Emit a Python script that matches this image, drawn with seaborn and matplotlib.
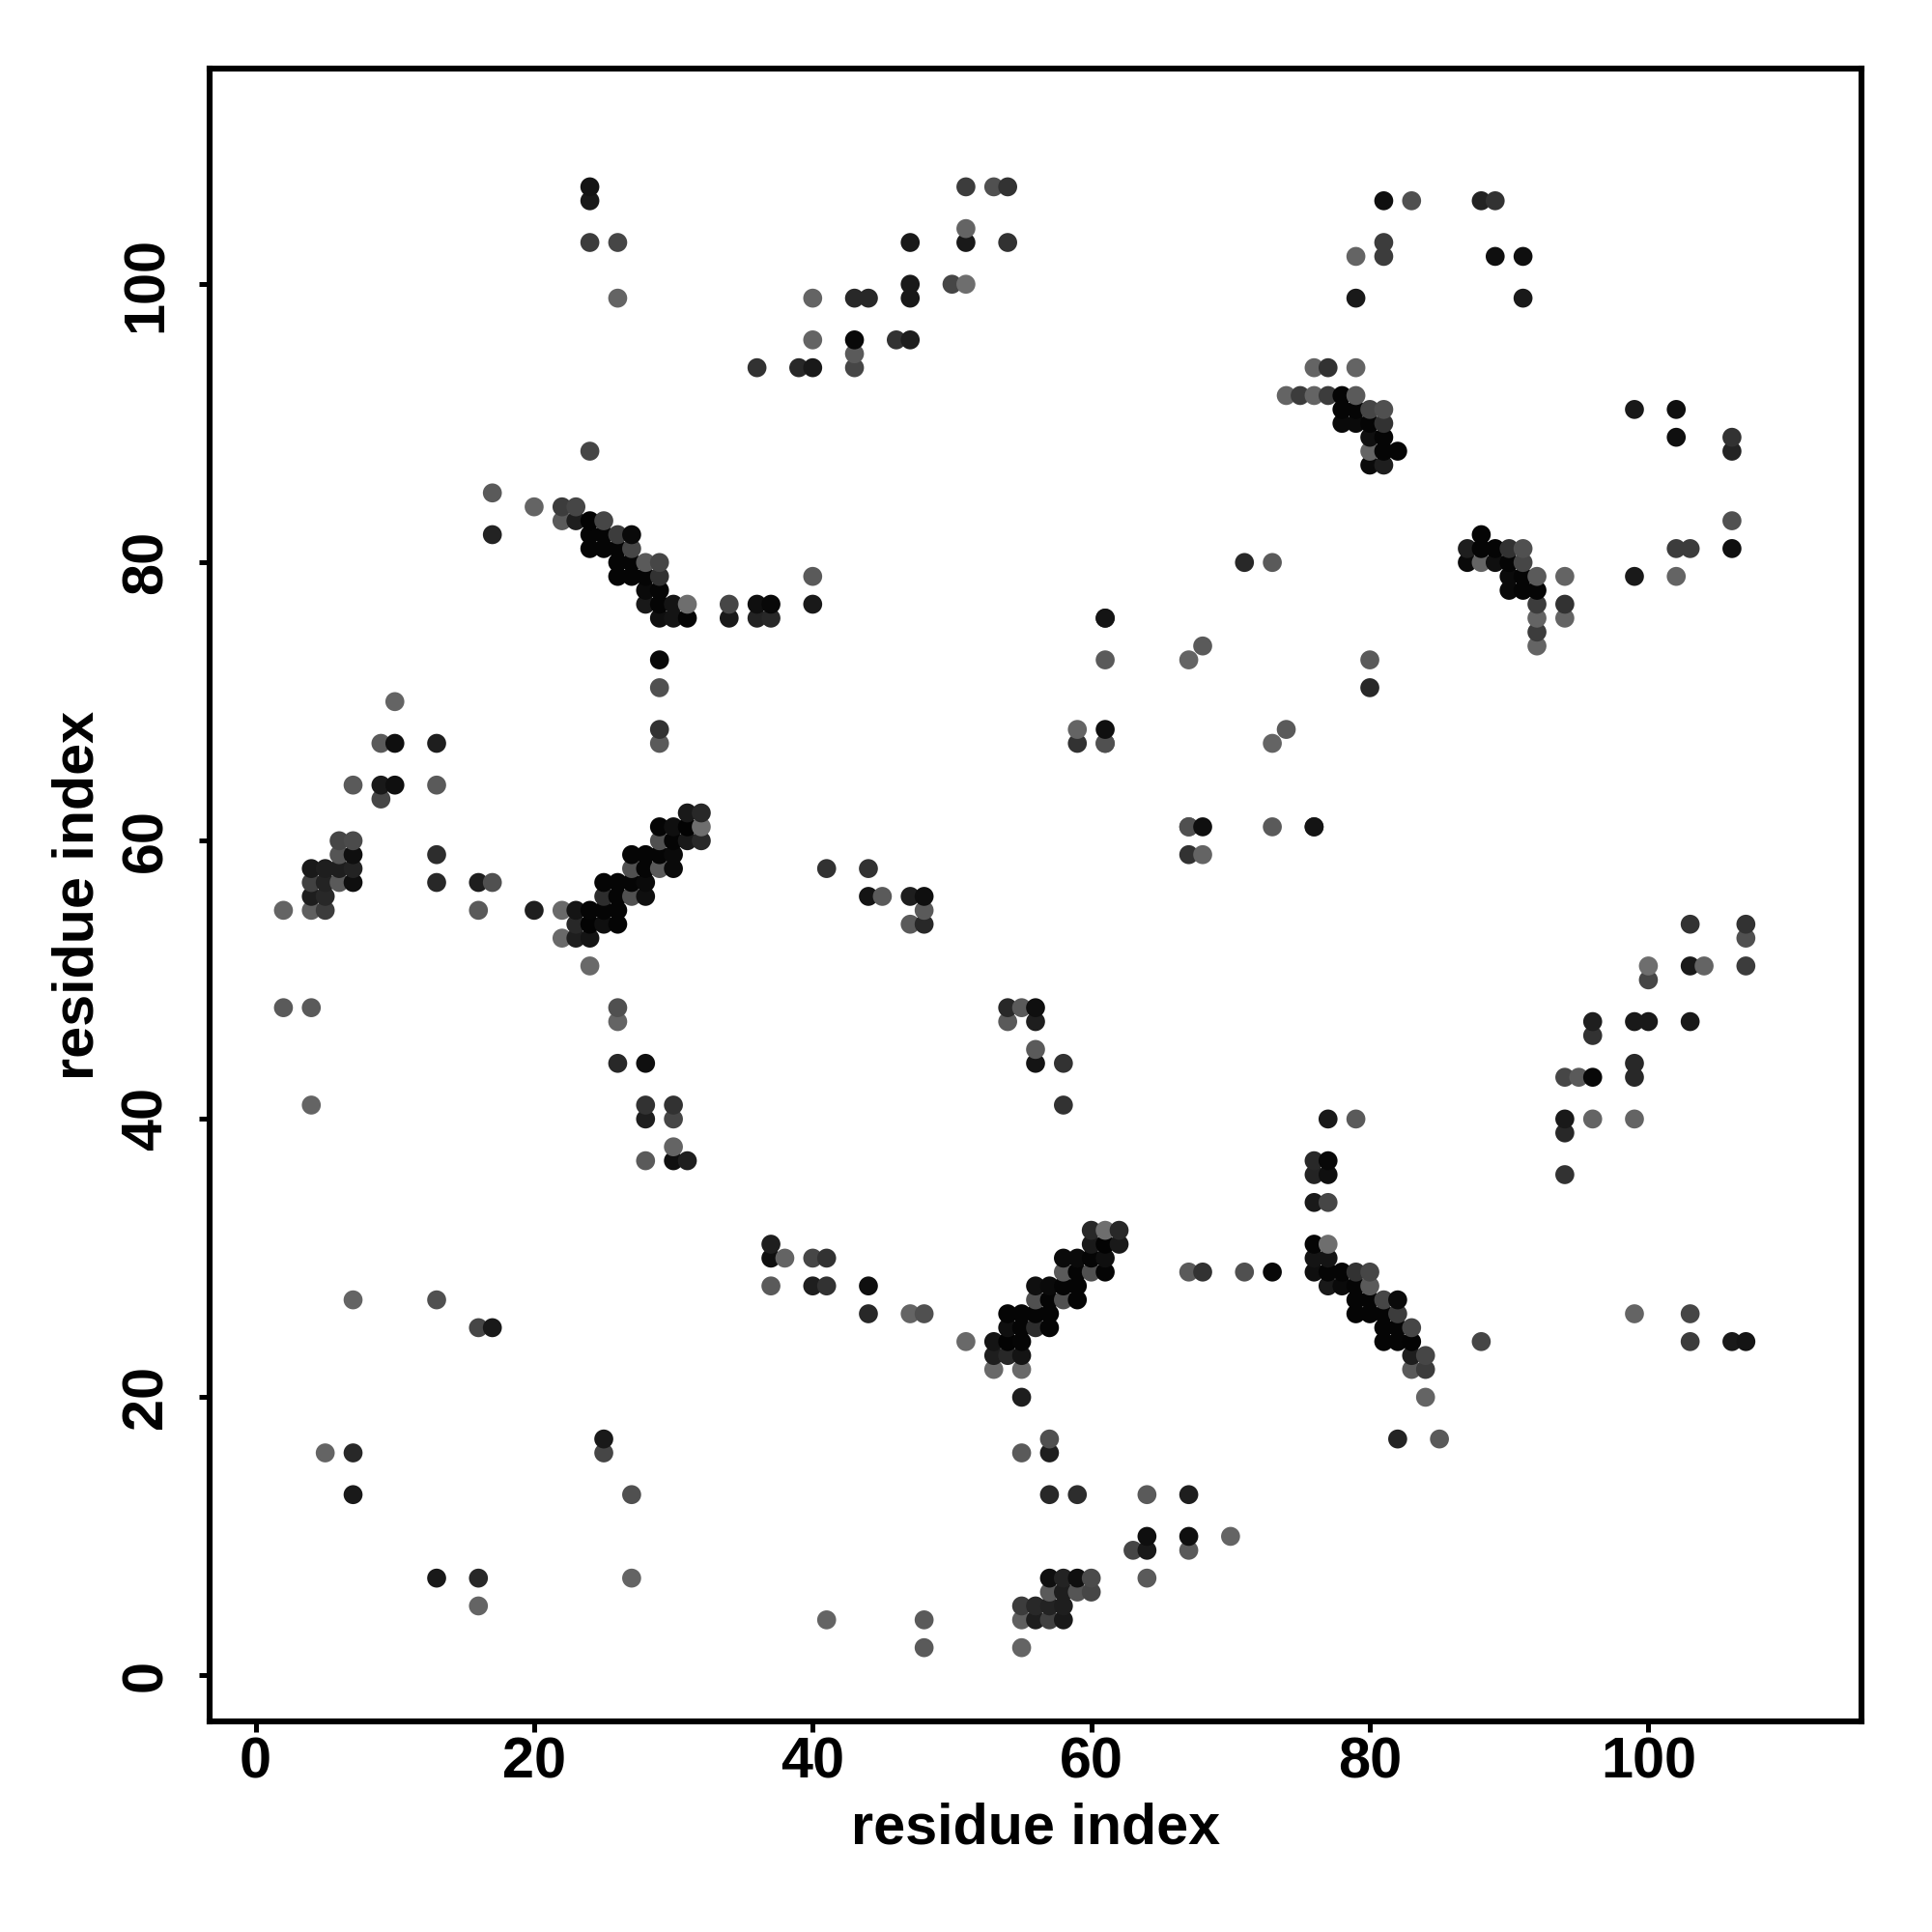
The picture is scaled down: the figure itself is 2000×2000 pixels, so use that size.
import pandas as pd
import matplotlib.pyplot as plt
import seaborn as sns

sns.set_style("white")
plt.rcParams['font.family'] = ['Liberation Sans', 'DejaVu Sans']
plt.rcParams['font.weight'] = 'bold'
plt.rcParams['text.color'] = 'black'
plt.rcParams['axes.labelcolor'] = 'black'
plt.rcParams['xtick.color'] = 'black'
plt.rcParams['ytick.color'] = 'black'

# contact map is symmetric: only the half with res_i < res_j is listed
res_i = [
    24, 24, 24, 26, 26,
    36, 39, 40, 40, 40, 43, 43, 43, 43, 44, 46, 47, 47, 47, 47, 50, 51, 51, 51, 51, 53, 54, 54,
    81, 83, 88, 89, 81, 81, 79, 79, 89, 91, 91,
    76, 77, 79, 74, 75, 76, 77, 78, 79,
    78, 79, 80, 81, 78, 79, 80, 81, 80, 81, 80, 81, 82, 80, 81,
    20, 22, 23, 22, 23, 24, 25, 24, 25, 26, 27, 24, 25, 26, 27,
    26, 27, 28, 29, 26, 27, 28, 29, 28, 29, 28, 29, 30, 31, 29, 30, 31,
    34, 34, 36, 37, 36, 37, 29, 29, 29, 29, 24, 17, 17, 40, 40,
    6, 7, 29, 30, 31, 32, 6, 7, 13, 27, 28, 29, 30,
    4, 5, 6, 7, 27, 28, 29, 30,
    4, 5, 6, 7, 13, 16, 17, 25, 26, 27, 28,
    4, 5, 25, 26, 27, 28,
    2, 4, 5, 16, 20, 22, 23, 24, 25, 26,
    23, 24, 25, 26, 22, 23, 24, 24,
    29, 30, 31, 32, 31, 32,
    9, 9, 10, 9, 10, 10, 7, 13, 13,
    41, 44, 44, 45, 47, 48, 47, 48, 48,
    67, 68, 61, 61, 59, 59, 61, 61, 71, 73, 61, 61,
    2, 4, 4, 5, 7, 7, 7, 13, 16, 17,
    26, 26, 26, 28, 28, 28, 28, 30, 30, 30, 30, 31,
]
res_j = [
    107, 106, 103, 103, 99,
    94, 94, 94, 96, 99, 94, 95, 96, 99, 99, 96, 96, 99, 100, 103, 100, 100, 103, 104, 107, 107, 107, 103,
    106, 106, 106, 106, 103, 102, 102, 99, 102, 102, 99,
    94, 94, 94, 92, 92, 92, 92, 92, 92,
    91, 91, 91, 91, 90, 90, 90, 90, 89, 89, 88, 88, 88, 87, 87,
    84, 84, 84, 83, 83, 83, 83, 82, 82, 82, 82, 81, 81, 81, 81,
    80, 80, 80, 80, 79, 79, 79, 79, 78, 78, 77, 77, 77, 77, 76, 76, 76,
    77, 76, 77, 77, 76, 76, 73, 71, 68, 67, 88, 85, 82, 79, 77,
    60, 60, 60, 60, 60, 60, 59, 59, 59, 59, 59, 59, 59,
    58, 58, 58, 58, 58, 58, 58, 58,
    57, 57, 57, 57, 57, 57, 57, 57, 57, 57, 57,
    56, 56, 56, 56, 56, 56,
    55, 55, 55, 55, 55, 55, 55, 55, 55, 55,
    54, 54, 54, 54, 53, 53, 53, 51,
    61, 61, 61, 61, 62, 62,
    67, 64, 67, 63, 64, 70, 64, 67, 64,
    58, 58, 56, 56, 56, 56, 54, 55, 54,
    73, 74, 76, 73, 68, 67, 68, 67, 80, 80, 67, 76,
    48, 48, 41, 16, 16, 13, 27, 27, 25, 25,
    48, 47, 44, 44, 41, 40, 37, 41, 40, 38, 37, 37,
]
shade = [
    20, 25, 60, 70, 100,
    50, 40, 25, 100, 100, 70, 90, 8, 40, 40, 50, 30, 25, 25, 25, 70, 110, 25, 100, 60, 80, 50, 50,
    15, 80, 35, 50, 60, 60, 100, 25, 15, 15, 25,
    100, 50, 100, 100, 60, 100, 60, 5, 90,
    5, 5, 70, 80, 10, 10, 5, 50, 15, 5, 100, 5, 5, 10, 30,
    100, 60, 70, 90, 30, 3, 70, 5, 5, 60, 10, 5, 5, 5, 70,
    5, 5, 90, 70, 5, 5, 5, 50, 10, 5, 25, 5, 20, 110, 15, 20, 5,
    70, 25, 15, 8, 35, 40, 8, 80, 50, 90, 70, 90, 35, 90, 25,
    70, 75, 80, 5, 25, 40, 85, 15, 45, 5, 5, 5, 10,
    25, 30, 30, 35, 80, 5, 90, 10,
    65, 35, 90, 15, 40, 30, 80, 5, 5, 5, 10,
    30, 40, 45, 5, 80, 15,
    100, 95, 60, 90, 30, 105, 20, 5, 5, 5,
    40, 3, 15, 5, 105, 30, 20, 105,
    5, 15, 3, 110, 25, 40,
    90, 25, 15, 70, 15, 100, 90, 30, 90,
    50, 50, 20, 90, 30, 15, 90, 90, 40,
    100, 90, 35, 90, 100, 50, 15, 80, 40, 90, 80, 20,
    90, 90, 100, 100, 40, 25, 100, 80, 70, 25,
    80, 100, 40, 15, 50, 30, 90, 50, 70, 100, 15, 30,
]

df = pd.DataFrame({"i": res_i + res_j, "j": res_j + res_i, "shade": shade + shade})
df = df.sort_values(["i", "j"])  # later residues sit on top where dots touch
palette = {v: str(v / 255) for v in df["shade"].unique()}

fig = plt.figure(figsize=(10, 10), dpi=200)
ax = fig.add_axes([217 / 2000, 1 - 1782 / 2000, 1710 / 2000, 1711 / 2000])

sns.scatterplot(data=df, x="i", y="j", hue="shade", palette=palette, s=50,
                linewidth=0, legend=False, ax=ax)

ax.set_xlim(-3.3, 115.3)
ax.set_ylim(-3.3, 115.5)
ax.set_xticks(range(0, 101, 20))
ax.set_yticks(range(0, 101, 20))
ax.tick_params(axis="both", length=4, width=1.8, direction="out", labelsize=21.4,
               bottom=True, left=True)
ax.tick_params(axis="x", pad=1.5)
ax.tick_params(axis="y", pad=9.5)
for lab in ax.get_yticklabels():
    lab.set_rotation(90)
    lab.set_va("center")
for side in ax.spines.values():
    side.set_linewidth(2.2)
    side.set_color("black")

ax.set_xlabel("residue index", fontsize=21.4, fontweight="bold", va="center")
ax.set_ylabel("residue index", fontsize=21.4, fontweight="bold", va="center")
ax.xaxis.set_label_coords(0.5, -0.065)
ax.yaxis.set_label_coords(-0.0795, 0.5)

fig.savefig("out.png", dpi=200)
